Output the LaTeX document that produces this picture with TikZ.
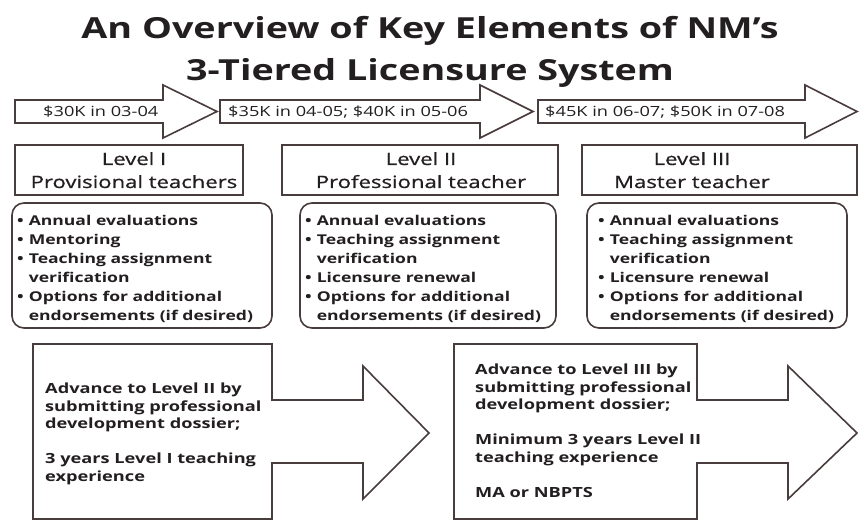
\documentclass[tikz,border=0pt]{standalone}
\usepackage{fontspec}
\setmainfont{Open Sans}[FakeStretch=1.3]
\newfontfamily\levelfont{Open Sans}[FakeStretch=1.3, FakeBold=0.8]
\usetikzlibrary{positioning}

\definecolor{edgegray}{RGB}{72,60,60}
\definecolor{inkgray}{RGB}{35,31,32}
\newcommand{\bul}{\textbullet\hspace{5pt}}
\newcommand{\ind}{\phantom{\textbullet}\hspace{5pt}}

\begin{document}
\begin{tikzpicture}[x=1pt, y=-1pt,
    outline/.style={draw=edgegray, fill=white, line width=1.6pt},
    titletext/.style={font=\bfseries\fontsize{29}{41}\selectfont, text=inkgray, inner sep=0pt, anchor=base},
    paytext/.style={font=\fontsize{14}{17}\selectfont, text=inkgray, inner sep=0pt, anchor=base west},
    leveltext/.style={font=\levelfont\fontsize{17}{23}\selectfont, text=inkgray, inner sep=0pt, align=center, anchor=base},
    dutytext/.style={font=\bfseries\fontsize{13.5}{19}\selectfont, text=inkgray, inner sep=0pt, align=left, anchor=base west},
    advtext/.style={font=\bfseries\fontsize{14}{17.5}\selectfont, text=inkgray, inner sep=0pt, align=left, anchor=base west}
  ]

      \fill[white] (0,0) rectangle (859,521);
      \useasboundingbox (0,0) rectangle (859,521);

      \node[titletext] (title1) at (430,39) {An Overview of Key Elements of NM’s};
      \node[titletext] (title2) at (430,81) {3-Tiered Licensure System};

      % salary arrows
      \foreach \l/\b/\t in {15/163/217, 220/480/533, 538/805/857} {
          \draw[outline] (\l,100) -- (\b,100) -- (\b,85) -- (\t,111.5) -- (\b,138) -- (\b,123) -- (\l,123) -- cycle;
      }
      \node[paytext] (pay1) at (43,117) {\$30K in 03-04};
      \node[paytext] (pay2) at (228,117) {\$35K in 04-05; \$40K in 05-06};
      \node[paytext] (pay3) at (545,117) {\$45K in 06-07; \$50K in 07-08};

      % levels (anchored at last baseline)
      \draw[outline] (15,145) rectangle (243,195);
      \draw[outline] (282,145) rectangle (558,195);
      \draw[outline] (582,145) rectangle (857,195);
      \node[leveltext] (level1) at (134,188) {Level I\\Provisional teachers};
      \node[leveltext] (level2) at (421,188) {Level II\\Professional teacher};
      \node[leveltext] (level3) at (692,188) {Level III\\Master teacher};

      % requirements
      \draw[outline, rounded corners=12pt] (12,203) rectangle (272,328);
      \draw[outline, rounded corners=12pt] (300,203) rectangle (556,328);
      \draw[outline, rounded corners=12pt] (587,203) rectangle (847,328);
      \node[dutytext] (duty1) at (17,320) {\bul Annual evaluations\\\bul Mentoring\\\bul Teaching assignment\\\ind verification\\\bul Options for additional\\\ind endorsements (if desired)};
      \node[dutytext] (duty2) at (305,320) {\bul Annual evaluations\\\bul Teaching assignment\\\ind verification\\\bul Licensure renewal\\\bul Options for additional\\\ind endorsements (if desired)};
      \node[dutytext] (duty3) at (598,320) {\bul Annual evaluations\\\bul Teaching assignment\\\ind verification\\\bul Licensure renewal\\\bul Options for additional\\\ind endorsements (if desired)};

      % advancement arrows
      \foreach \l/\r/\b/\t in {33/272/363/429, 454/697/788/857} {
          \draw[outline] (\l,344) -- (\r,344) -- (\r,400) -- (\b,400) -- (\b,366) -- (\t,433) -- (\b,499) -- (\b,463) -- (\r,463) -- (\r,519) -- (\l,519) -- cycle;
      }
      \node[advtext] (adv1) at (45,481) {Advance to Level II by\\submitting professional\\development dossier;\\[17.5pt]3 years Level I teaching\\experience};
      \node[advtext] (adv2) at (475,497) {Advance to Level III by\\submitting professional\\development dossier;\\[17.5pt]Minimum 3 years Level II\\teaching experience\\[17.5pt]MA or NBPTS};

\end{tikzpicture}
\end{document}
